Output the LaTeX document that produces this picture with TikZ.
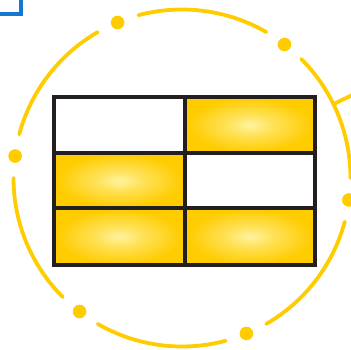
\documentclass[tikz,border=0pt]{standalone}
\definecolor{gold}{RGB}{255,204,0}
\definecolor{goldlight}{RGB}{255,243,160}
\definecolor{gridink}{RGB}{35,31,32}
\definecolor{frameblue}{RGB}{20,120,210}
\pgfdeclareradialshading{cellshade}{\pgfpoint{0bp}{0bp}}{color(0bp)=(goldlight); color(9bp)=(goldlight!55!gold); color(24bp)=(gold); color(50bp)=(gold)}
\tikzset{
  ring/.style={draw=gold, line width=3.8pt, line cap=round},
  ringdot/.style={fill=gold},
  cellfill/.style={shading=cellshade},
  gridline/.style={draw=gridink, line width=4.5pt}
}
\begin{document}
\begin{tikzpicture}[x=1pt,y=1pt]
\useasboundingbox (0,0) rectangle (351,349);
\clip (0,0) rectangle (351,349);
% blue frame corner
\draw[frameblue, line width=4pt] (-10,335) -- (21,335) -- (21,360);
% ring
\coordinate (c) at (182,171);
\foreach \a in {-7.5,52.5,112.5,172.5,232.5,292.5}{
  \fill[ringdot] (c) ++(\a:168.3) circle[radius=6.8];
  \draw[ring] (c) ++(\a+7.5:168.5) arc[start angle=\a+7.5, end angle=\a+52.5, radius=168.5];
}
\draw[ring, line cap=butt] (c) ++(26:168.5) -- ++(26:40);
% cells
\shade[cellfill] (185,196) rectangle (315,252);
\shade[cellfill] (54,141) rectangle (185,196);
\shade[cellfill] (54,84) rectangle (185,141);
\shade[cellfill] (185,84) rectangle (315,141);
% grid
\draw[gridline] (54,84) rectangle (315,252);
\draw[gridline] (185,84) -- (185,252);
\draw[gridline] (54,196) -- (315,196);
\draw[gridline] (54,141) -- (315,141);
\end{tikzpicture}
\end{document}
